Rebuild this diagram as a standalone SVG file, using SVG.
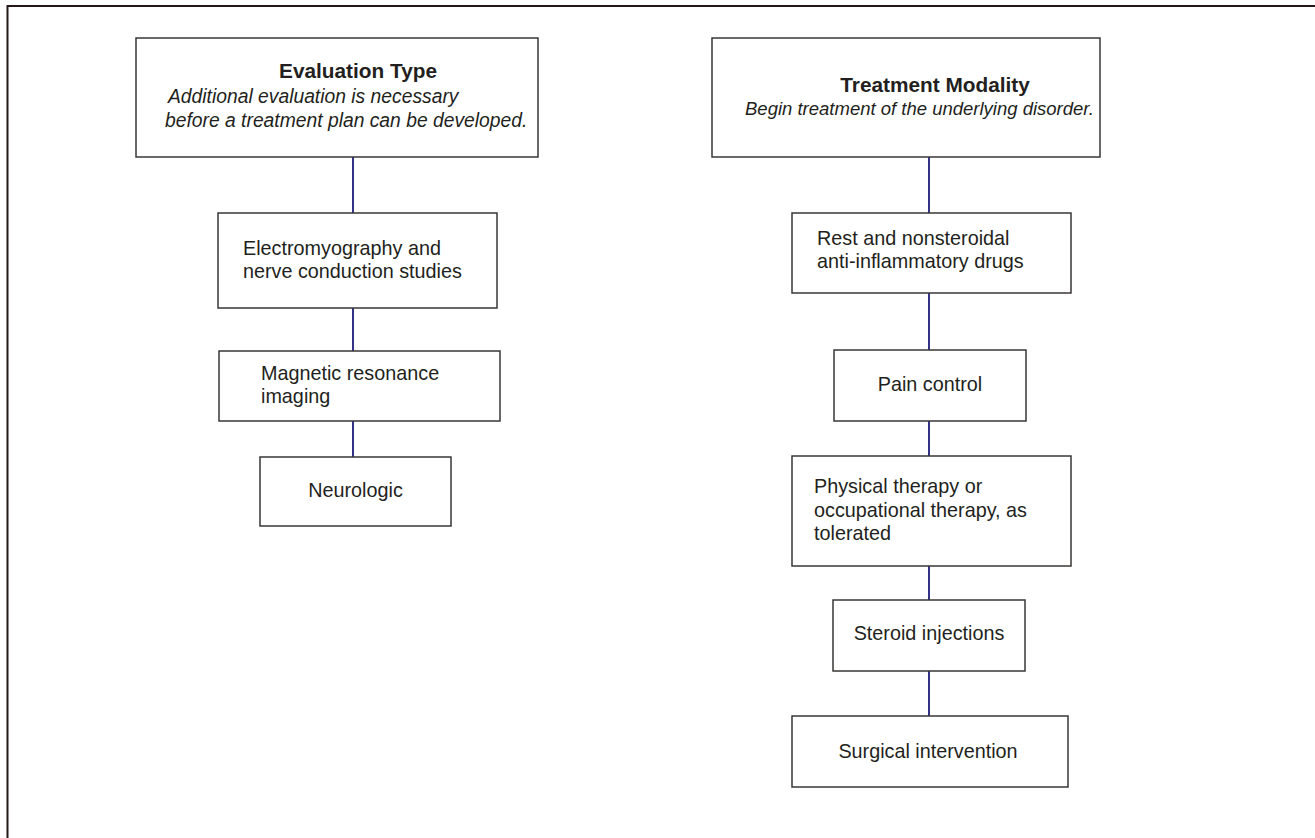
<svg xmlns="http://www.w3.org/2000/svg" width="1315" height="838" viewBox="0 0 1315 838">
<style>
.box{fill:#fff;stroke:#3a3636;stroke-width:1.5}
.t{font-family:"Liberation Sans",Arial,sans-serif;font-size:19.8px;fill:#231f20}
.h{font-family:"Liberation Sans",Arial,sans-serif;font-size:20.8px;font-weight:bold;fill:#231f20}
.i{font-family:"Liberation Sans",Arial,sans-serif;font-size:18.5px;font-style:italic;fill:#231f20}
.il{font-size:19.3px}
.c{text-anchor:middle}
.conn line{stroke:#1c1c7a;stroke-width:1.8}
</style>
<rect width="1315" height="838" fill="#fff"/>
<path d="M7.5 838 V6 H1315" fill="none" stroke="#231815" stroke-width="2"/>
<g class="conn" id="connectors">
<line x1="353" y1="157" x2="353" y2="213"/>
<line x1="353" y1="308" x2="353" y2="351"/>
<line x1="353" y1="421" x2="353" y2="457"/>
<line x1="929" y1="157" x2="929" y2="213"/>
<line x1="929" y1="293" x2="929" y2="350"/>
<line x1="929" y1="421" x2="929" y2="456"/>
<line x1="929" y1="566" x2="929" y2="600"/>
<line x1="929" y1="671" x2="929" y2="716"/>
</g>
<g id="evaluation">
<rect class="box" x="136" y="38" width="402" height="119"/>
<text class="h c" x="358" y="78">Evaluation Type</text>
<text class="i il" x="168" y="103">Additional evaluation is necessary</text>
<text class="i il" x="165" y="127">before a treatment plan can be developed.</text>
</g>
<g id="emg">
<rect class="box" x="218" y="213" width="279" height="95"/>
<text class="t" x="243" y="255">Electromyography and</text>
<text class="t" x="243" y="278">nerve conduction studies</text>
</g>
<g id="mri">
<rect class="box" x="219" y="351" width="281" height="70"/>
<text class="t" x="261" y="380">Magnetic resonance</text>
<text class="t" x="261" y="403">imaging</text>
</g>
<g id="neuro">
<rect class="box" x="260" y="457" width="191" height="69"/>
<text class="t c" x="355.5" y="497">Neurologic</text>
</g>
<g id="treatment">
<rect class="box" x="712" y="38" width="388" height="119"/>
<text class="h c" x="935" y="92">Treatment Modality</text>
<text class="i" x="745" y="115">Begin treatment of the underlying disorder.</text>
</g>
<g id="rest">
<rect class="box" x="792" y="213" width="279" height="80"/>
<text class="t" x="817" y="245">Rest and nonsteroidal</text>
<text class="t" x="817" y="268">anti-inflammatory drugs</text>
</g>
<g id="pain">
<rect class="box" x="834" y="350" width="192" height="71"/>
<text class="t c" x="930" y="391">Pain control</text>
</g>
<g id="physical">
<rect class="box" x="792" y="456" width="279" height="110"/>
<text class="t" x="814" y="493">Physical therapy or</text>
<text class="t" x="814" y="517">occupational therapy, as</text>
<text class="t" x="814" y="540">tolerated</text>
</g>
<g id="steroid">
<rect class="box" x="833" y="600" width="192" height="71"/>
<text class="t c" x="929" y="640">Steroid injections</text>
</g>
<g id="surgical">
<rect class="box" x="792" y="716" width="276" height="71"/>
<text class="t c" x="928" y="758">Surgical intervention</text>
</g>
</svg>
